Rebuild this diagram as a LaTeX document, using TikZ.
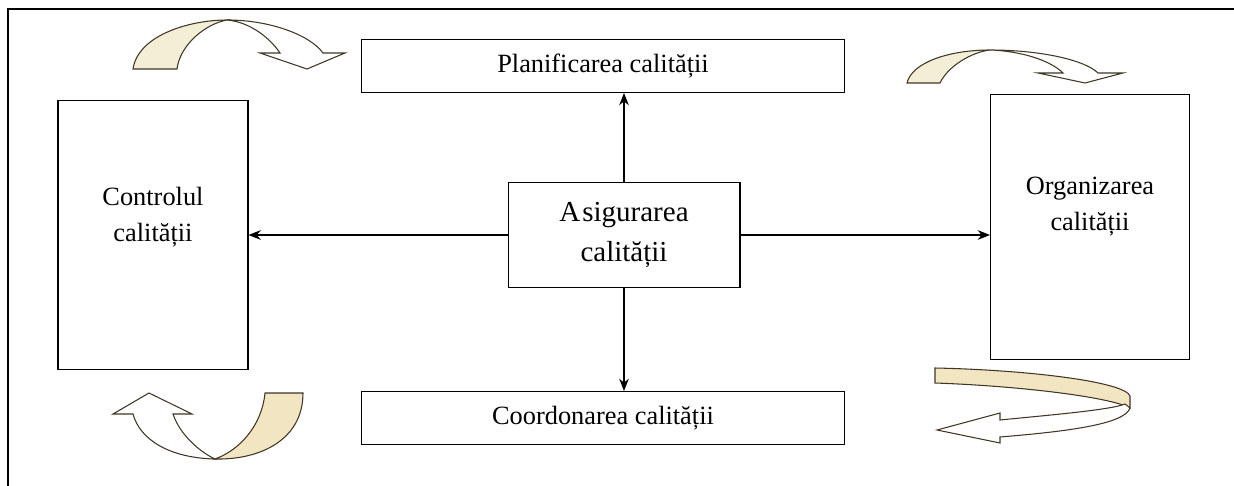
\documentclass[tikz,border=0pt]{standalone}
\usepackage{fontspec}
\setmainfont{Liberation Serif}
\usetikzlibrary{arrows.meta,positioning}

\definecolor{cream}{HTML}{F3EED6}
\definecolor{sand}{HTML}{F2E6C2}
\definecolor{rim}{HTML}{3F3626}

\tikzset{
  box/.style={draw, line width=0.6pt, align=center, inner sep=0pt,
    font=\fontsize{15}{20.5}\selectfont},
  back/.style={draw=rim, line width=0.6pt, fill=#1},
  face/.style={draw=rim, line width=0.6pt, fill=white}
}

\begin{document}
\begin{tikzpicture}[x=0.02cm, y=-0.02cm, >={Stealth[length=7pt, width=5.5pt]}]

\useasboundingbox (0,0) rectangle (1234,486);
\draw [line width=0.7pt] (1240,9) -- (8,9) -- (8,495);

\node [box, minimum width=9.66cm, minimum height=1.06cm] (plan) at (603,66) {Planificarea calității};
\node [box, minimum width=9.66cm, minimum height=1.06cm] (coord) at (603,418) {Coordonarea calității};
\node [box, minimum width=3.8cm, minimum height=5.38cm] (ctrl) at (153,235) {};
\node [box, minimum width=3.98cm, minimum height=5.3cm] (org) at (1090,227) {};
\node [box, minimum width=4.64cm, minimum height=2.1cm,
  font=\fontsize{16.5}{22.5}\selectfont] (asig) at (624,235) {A\kern1.2pt sigurarea\\calității};

\node [box, draw=none] (ctrl-text) at ([yshift=0.36cm]ctrl.center) {Controlul\\calității};
\node [box, draw=none] (org-text) at ([yshift=0.4cm]org.center) {Organizarea\\calității};

\draw [->, line width=0.6pt] (asig.north) -- (asig.north |- plan.south);
\draw [->, line width=0.6pt] (asig.south) -- (asig.south |- coord.north);
\draw [->, line width=0.6pt] (asig.west) -- (asig.west -| ctrl.east);
\draw [->, line width=0.6pt] (asig.east) -- (asig.east -| org.west);

% curved block arrows
\draw [back=cream] (133,69) .. controls (138,35) and (190,20) .. (227,20)
  .. controls (205,24) and (180,45) .. (177,69) -- cycle;
\draw [face] (227,20) .. controls (270,20) and (310,35) .. (323,53) -- (345,53) -- (307,69)
  -- (260,53) -- (280,53) .. controls (270,38) and (250,22) .. (227,20) -- cycle;

\draw [back=cream] (907,83) .. controls (912,62) and (950,50) .. (990,50)
  .. controls (972,52) and (948,66) .. (940,83) -- cycle;
\draw [face] (990,50) .. controls (1040,50) and (1085,60) .. (1098,73) -- (1123,73) -- (1085,83)
  -- (1038,73) -- (1063,73) .. controls (1050,60) and (1020,51) .. (990,50) -- cycle;

\draw [back=sand] (303,393) .. controls (303,440) and (260,460) .. (215,459)
  .. controls (240,450) and (262,425) .. (265,393) -- cycle;
\draw [face] (215,459) .. controls (170,458) and (140,440) .. (133,414) -- (113,414) -- (149,393)
  -- (192,414) -- (173,414) .. controls (180,435) and (200,452) .. (215,459) -- cycle;

\draw [back=sand] (935,368) .. controls (1030,370) and (1125,382) .. (1130,396) -- (1130,408)
  .. controls (1110,397) and (1020,386) .. (935,383) -- cycle;
\draw [face] (1130,408) .. controls (1125,425) and (1060,432) .. (1000,437) -- (1000,443) -- (937,430)
  -- (1000,413) -- (1000,420) .. controls (1050,415) and (1110,410) .. (1125,404) -- cycle;

\end{tikzpicture}
\end{document}
